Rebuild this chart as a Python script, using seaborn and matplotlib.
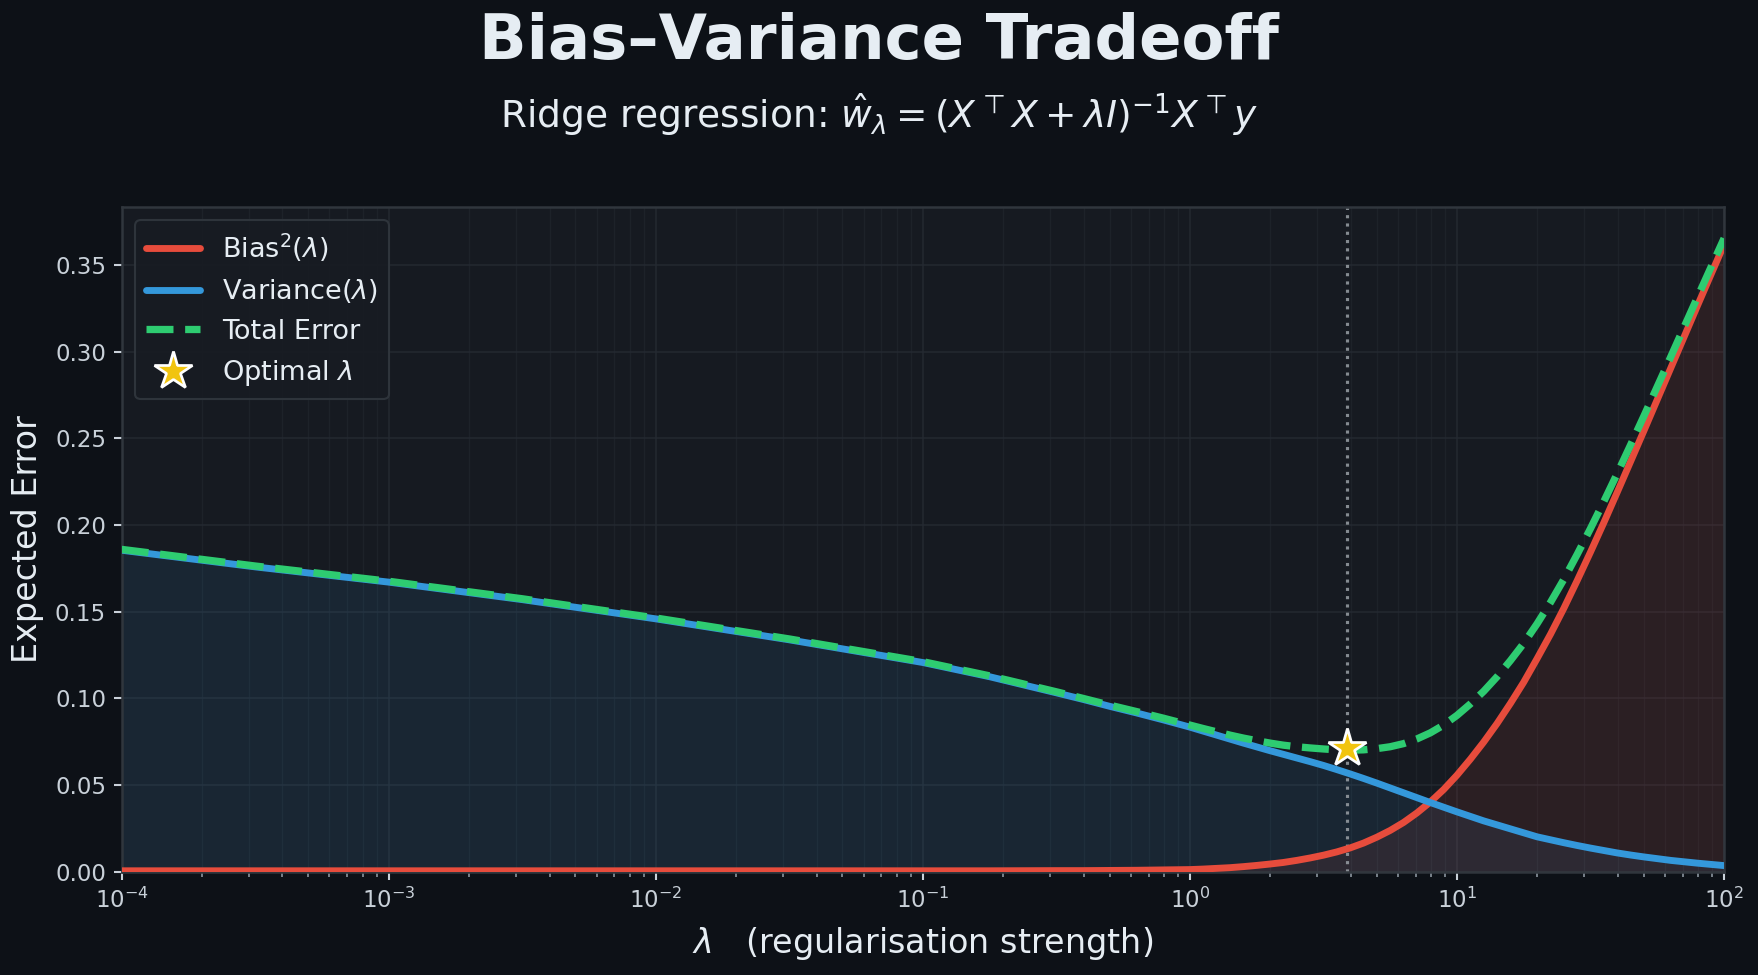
import numpy as np
import pandas as pd
import matplotlib
matplotlib.use("Agg")
import matplotlib.pyplot as plt
import matplotlib.ticker as mticker
import seaborn as sns

# values (lambda given as log10 exponent)
lam_exp = [-4, -3.5, -3, -2.5, -2, -1.5, -1, -0.75, -0.5, -0.4, -0.3, -0.2, -0.1,
           0.0, 0.05, 0.1, 0.15, 0.2, 0.25, 0.3, 0.35, 0.4, 0.45, 0.5, 0.55, 0.6, 0.65,
           0.7, 0.75, 0.8, 0.85, 0.9, 0.95, 1.0, 1.05, 1.1, 1.15, 1.2, 1.25, 1.3, 1.35,
           1.4, 1.45, 1.5, 1.55, 1.6, 1.65, 1.7, 1.75, 1.8, 1.85, 1.9, 1.95, 2.0]
bias_sq = [0.0005, 0.0005, 0.0005, 0.0005, 0.0005, 0.0005, 0.0005, 0.0005, 0.0006, 0.0006,
           0.0007, 0.0008, 0.0010,
           0.0012, 0.0015, 0.0019, 0.0023, 0.0029, 0.0036, 0.0044, 0.0053, 0.0065, 0.0079,
           0.0095, 0.0114, 0.0137, 0.0165, 0.0199, 0.0238, 0.0284, 0.0339, 0.0402, 0.0474,
           0.0557, 0.0649, 0.0748, 0.0855, 0.0971, 0.1094, 0.1230, 0.1370, 0.1520, 0.1680,
           0.1845, 0.2015, 0.2190, 0.2367, 0.2545, 0.2725, 0.2905, 0.3085, 0.3265, 0.3443,
           0.3620]
variance = [0.1855, 0.1759, 0.1671, 0.1570, 0.1459, 0.1338, 0.1207, 0.1125, 0.1032, 0.0994,
            0.0954, 0.0916, 0.0876,
            0.0834, 0.0811, 0.0788, 0.0765, 0.0742, 0.0720, 0.0698, 0.0677, 0.0656, 0.0635,
            0.0613, 0.0589, 0.0564, 0.0538, 0.0511, 0.0483, 0.0455, 0.0427, 0.0399, 0.0372,
            0.0345, 0.0319, 0.0293, 0.0270, 0.0247, 0.0224, 0.0201, 0.0184, 0.0167, 0.0151,
            0.0136, 0.0122, 0.0108, 0.0096, 0.0085, 0.0075, 0.0065, 0.0057, 0.0049, 0.0042,
            0.0035]
total = [0.1860, 0.1764, 0.1676, 0.1575, 0.1464, 0.1343, 0.1212, 0.1130, 0.1038, 0.1000,
         0.0961, 0.0924, 0.0886,
         0.0846, 0.0826, 0.0807, 0.0788, 0.0771, 0.0756, 0.0742, 0.0730, 0.0721, 0.0714,
         0.0708, 0.0703, 0.0701, 0.0703, 0.0710, 0.0721, 0.0739, 0.0766, 0.0801, 0.0846,
         0.0902, 0.0968, 0.1041, 0.1125, 0.1218, 0.1318, 0.1431, 0.1554, 0.1687, 0.1831,
         0.1981, 0.2137, 0.2298, 0.2463, 0.2630, 0.2800, 0.2970, 0.3142, 0.3314, 0.3485,
         0.3655]
opt_lambda = 3.88
opt_error = 0.0715

df = pd.DataFrame({"lam": 10.0 ** np.array(lam_exp), "bias": bias_sq,
                   "var": variance, "total": total})

BG = "#0d1117"
AX_BG = "#161a21"
TXT = "#e6edf3"
RED, BLUE, GREEN, GOLD = "#e74c3c", "#3498db", "#2ecc71", "#f1c40f"

sns.set_theme(style="dark")
plt.rcParams["font.family"] = ["DejaVu Sans"]
plt.rcParams["mathtext.fontset"] = "dejavusans"

fig = plt.figure(figsize=(11.72, 6.5), dpi=150, facecolor=BG)
ax = fig.add_axes([0.0692, 0.106, 0.9115, 0.682])
ax.set_facecolor(AX_BG)

ax.fill_between(df["lam"], 0, df["var"], color=BLUE, alpha=0.1, lw=0)
ax.fill_between(df["lam"], 0, df["bias"], color=RED, alpha=0.1, lw=0)

sns.lineplot(data=df, x="lam", y="bias", ax=ax, color=RED, lw=3.3,
             label=r"Bias$^2(\lambda)$", zorder=3)
sns.lineplot(data=df, x="lam", y="var", ax=ax, color=BLUE, lw=3.3,
             label=r"Variance$(\lambda)$", zorder=3)
sns.lineplot(data=df, x="lam", y="total", ax=ax, color=GREEN, lw=3.5,
             linestyle="--", label="Total Error", zorder=4)
ax.axvline(opt_lambda, color="#9aa0a6", lw=1.5, ls=":", alpha=0.85, zorder=2)
ax.plot([opt_lambda], [opt_error], marker="*", ms=19, color=GOLD, mec="white",
        mew=1.3, ls="none", label=r"Optimal $\lambda$", zorder=6)

ax.set_xscale("log")
ax.set_xlim(1e-4, 1e2)
ax.set_ylim(0, max(total) * 1.05)
ax.yaxis.set_major_locator(mticker.MultipleLocator(0.05))
ax.yaxis.set_major_formatter(mticker.FormatStrFormatter("%.2f"))

ax.grid(True, which="major", color="#262b33", lw=0.8, alpha=0.8)
ax.grid(True, which="minor", axis="x", color="#20252c", lw=0.6, alpha=0.8)
ax.tick_params(axis="both", which="major", labelsize=11, colors="#c9d1d9",
               length=4, width=1, left=True, bottom=True)
ax.tick_params(axis="x", which="minor", colors="#8b949e", length=2.5, width=0.8, bottom=True)
for sp in ax.spines.values():
    sp.set_color("#30363d")
    sp.set_linewidth(1.2)

ax.set_xlabel(r"$\lambda$   (regularisation strength)", fontsize=16, color=TXT, labelpad=6)
ax.set_ylabel("Expected Error", fontsize=16, color=TXT, labelpad=5)

leg = ax.legend(loc="upper left", fontsize=13, facecolor="#181c23", edgecolor="#30363d",
                framealpha=0.95, labelcolor=TXT, handlelength=2.0)
leg.get_frame().set_linewidth(1.0)

fig.text(0.5, 0.957, "Bias–Variance Tradeoff", ha="center", va="center",
         fontsize=30, fontweight="bold", color=TXT)
fig.text(0.5, 0.882, r"Ridge regression: $\hat{w}_\lambda = (X^\top X + \lambda I)^{-1} X^\top y$",
         ha="center", va="center", fontsize=18, color=TXT)

fig.savefig("out.png", dpi=150, facecolor=BG)
